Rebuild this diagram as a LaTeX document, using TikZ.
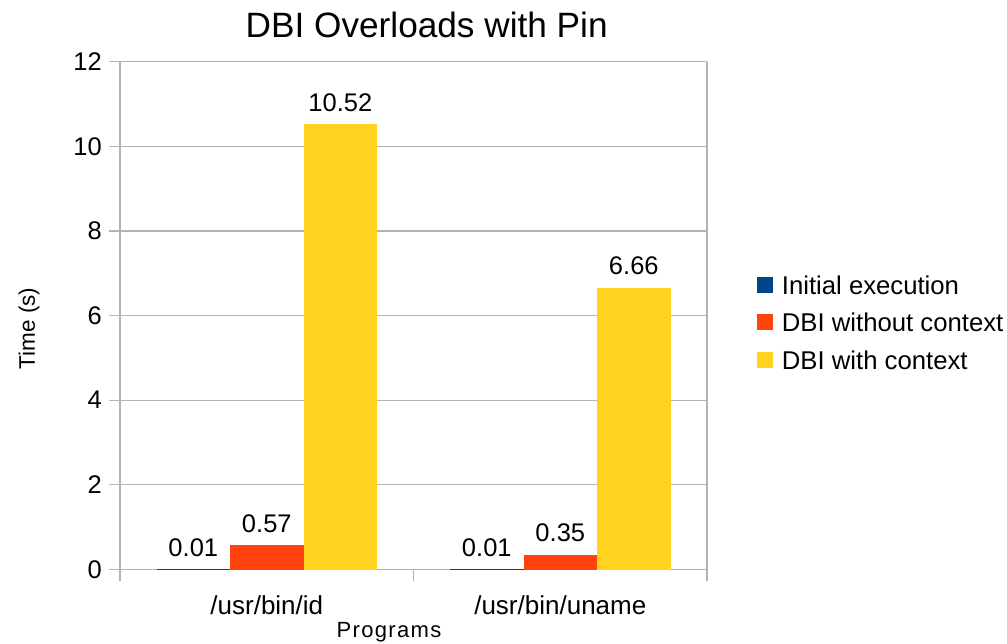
\documentclass[tikz,border=0pt]{standalone}
\usepackage{fontspec}
\setmainfont{Liberation Sans}
\definecolor{sblue}{HTML}{004586}
\definecolor{sred}{HTML}{FF420E}
\definecolor{syellow}{HTML}{FFD320}
\definecolor{grid}{HTML}{B3B3B3}
\tikzset{
  gridline/.style={draw=grid, line width=1.1pt},
  ticklbl/.style={font=\fontsize{25.5}{28}\selectfont, anchor=east, inner sep=0pt},
  vallbl/.style={font=\fontsize{25.5}{28}\selectfont, inner sep=0pt},
  catlbl/.style={font=\fontsize{26}{28}\selectfont, inner sep=0pt},
  axtitle/.style={font=\fontsize{22.5}{24}\selectfont, inner sep=0pt},
  legtext/.style={font=\fontsize{25.7}{28}\selectfont, anchor=west, inner sep=0pt}
}
\begin{document}
\begin{tikzpicture}[x=1pt,y=-1pt]
\fill[white] (0,0) rectangle (1007,644);
\useasboundingbox (0,0) rectangle (1007,644);
% gridlines
\foreach \v/\yy in {0/569.5,2/484.8,4/400.2,6/315.6,8/231,10/146.3,12/61.7} {
  \draw[gridline] (109,\yy) -- (707,\yy);
  \node[ticklbl] (t\v) at (102,\yy) {\v};
}
\draw[gridline] (120,61.7) -- (120,581);
\draw[gridline] (707,61.7) -- (707,581);
\draw[gridline] (413.5,569.5) -- (413.5,581);
% bars group 1
\fill[sblue] (156.5,569.5) rectangle (230,568.5);
\fill[sred] (230,569.5) rectangle (303.5,545.4);
\fill[syellow] (303.5,569.5) rectangle (377,124.5);
% bars group 2
\fill[sblue] (450,569.5) rectangle (523.5,568.5);
\fill[sred] (523.5,569.5) rectangle (597,554.7);
\fill[syellow] (597,569.5) rectangle (670.5,287.7);
% value labels
\node[vallbl] (v1) at (193.3,547.5) {0.01};
\node[vallbl] (v2) at (266.8,523.5) {0.57};
\node[vallbl] (v3) at (340.3,103) {10.52};
\node[vallbl] (v4) at (486.8,547.5) {0.01};
\node[vallbl] (v5) at (560.3,533) {0.35};
\node[vallbl] (v6) at (633.8,266.2) {6.66};
% category labels
\node[catlbl] (c1) at (266.8,605) {/usr/bin/id};
\node[catlbl] (c2) at (560.3,605) {/usr/bin/uname};
% axis titles
\node[font=\fontsize{22}{24}\selectfont\addfontfeature{LetterSpace=6}, inner sep=0pt] (xt) at (389,632) {Programs};
\node[axtitle, rotate=90] (yt) at (29,328.5) {Time (s)};
% title
\node[font=\fontsize{35.2}{38}\selectfont, inner sep=0pt] (title) at (426.7,25) {DBI Overloads with Pin};
% legend
\fill[sblue] (756.7,277) rectangle (772.7,293);
\fill[sred] (756.7,314) rectangle (772.7,330);
\fill[syellow] (756.7,352) rectangle (772.7,368);
\node[legtext] (l1) at (781.7,285) {Initial execution};
\node[legtext] (l2) at (781.7,322) {DBI without context};
\node[legtext] (l3) at (781.7,360) {DBI with context};
\end{tikzpicture}
\end{document}
